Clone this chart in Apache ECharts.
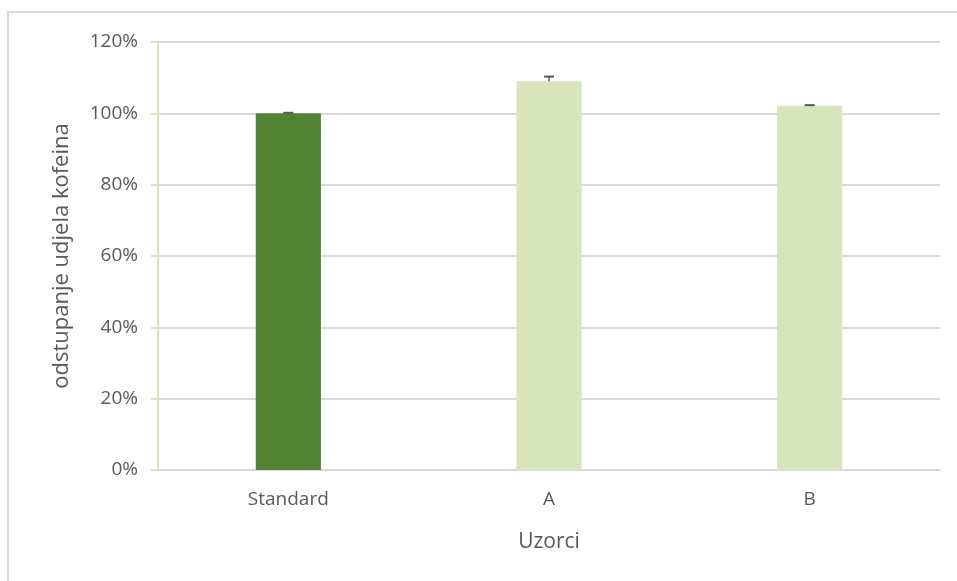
<!DOCTYPE html>
<html>
<head>
<meta charset="utf-8">
<script src="https://cdn.jsdelivr.net/npm/echarts@6/dist/echarts.min.js"></script>
<style>
html,body{margin:0;padding:0;background:#fff;}
#c{width:957px;height:581px;}
</style>
</head>
<body>
<div id="c"></div>
<script>
const categories = ['Standard', 'A', 'B'];
const values = [100, 109, 102.1];
const errors = [0.15, 1.3, 0.2];
const barColors = ['#548235', '#D8E4BC', '#D8E4BC'];
const yTicks = [0, 20, 40, 60, 80, 100, 120];

const chart = echarts.init(document.getElementById('c'));
const font = '"Open Sans", "Noto Sans", sans-serif';
chart.setOption({
  animation: false,
  backgroundColor: '#fff',
  graphic: [{
    type: 'rect',
    shape: {x: 8, y: 12, width: 1000, height: 1000},
    style: {fill: 'none', stroke: '#d9d9d9', lineWidth: 2},
    silent: true,
    z: -10
  }],
  grid: {left: 158, top: 42, right: 17, bottom: 111, containLabel: false},
  xAxis: {
    type: 'category',
    data: categories,
    name: 'Uzorci',
    nameLocation: 'middle',
    nameGap: 62,
    nameTextStyle: {color: '#595959', fontSize: 21, fontFamily: font},
    axisLine: {lineStyle: {color: '#d9d9d9', width: 2}},
    axisTick: {show: false},
    axisLabel: {color: '#595959', fontSize: 19, fontFamily: font, margin: 20}
  },
  yAxis: {
    type: 'value',
    min: yTicks[0],
    max: yTicks[yTicks.length - 1],
    interval: 20,
    name: 'odstupanje udjela kofeina',
    nameLocation: 'middle',
    nameGap: 85,
    nameTextStyle: {color: '#595959', fontSize: 22, fontFamily: font},
    axisLine: {show: true, lineStyle: {color: '#D8E4BC', width: 2}},
    axisTick: {show: true, length: 7, lineStyle: {color: '#D8E4BC', width: 2}},
    axisLabel: {color: '#595959', fontSize: 19, fontFamily: font, margin: 20, formatter: '{value}%'},
    splitLine: {lineStyle: {color: '#d9d9d9', width: 2}}
  },
  series: [{
    type: 'bar',
    barWidth: '25%',
    data: values.map((v, i) => ({value: v, itemStyle: {color: barColors[i]}})),
    z: 2
  }, {
    type: 'custom',
    z: 5,
    data: values.map((v, i) => [i, v, errors[i]]),
    renderItem: function (params, api) {
      const x = api.value(0), v = api.value(1), e = api.value(2);
      const top = api.coord([x, v + e]);
      const base = api.coord([x, v]);
      const hw = 5;
      return {
        type: 'group',
        children: [
          {type: 'line', shape: {x1: top[0], y1: top[1], x2: base[0], y2: base[1]}, style: {stroke: '#595959', lineWidth: 1.5}},
          {type: 'line', shape: {x1: top[0] - hw, y1: top[1], x2: top[0] + hw, y2: top[1]}, style: {stroke: '#595959', lineWidth: 2}}
        ]
      };
    }
  }]
});
</script>
</body>
</html>
